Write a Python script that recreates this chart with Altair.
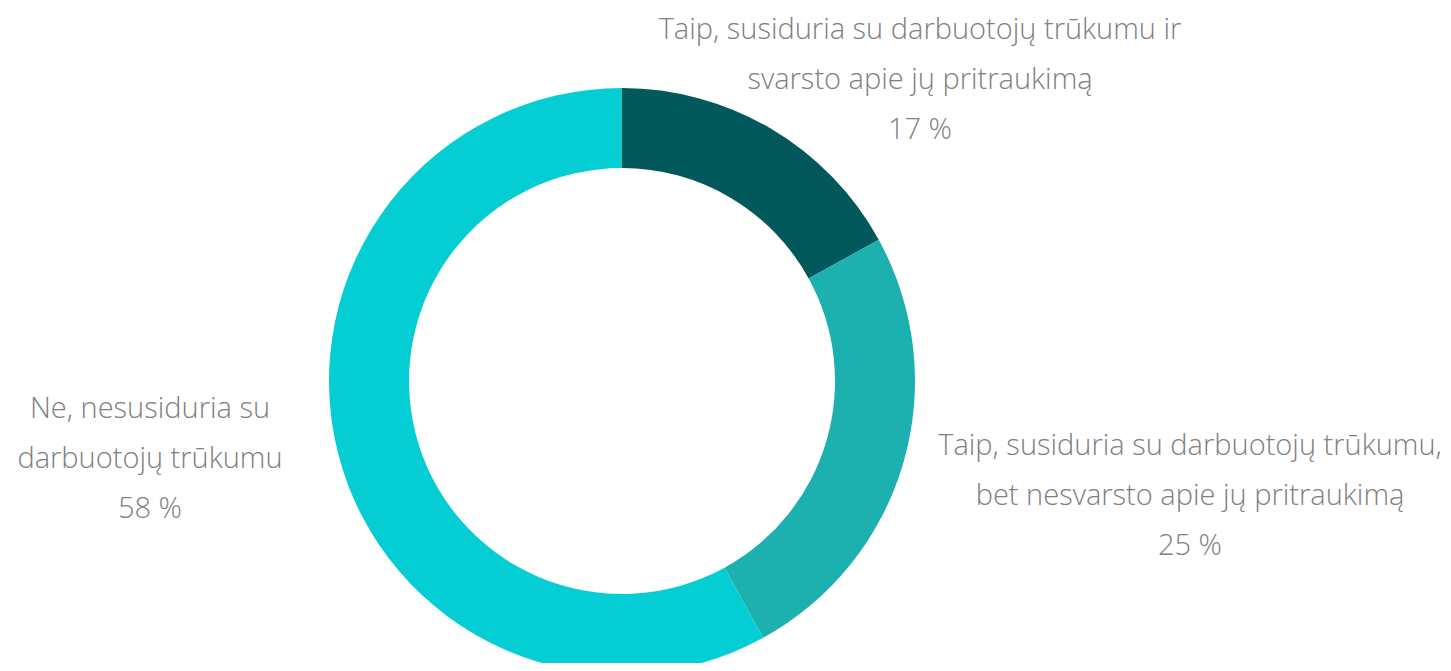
import altair as alt
import pandas as pd

categories = [
    "Taip, susiduria su darbuotojų trūkumu ir svarsto apie jų pritraukimą",
    "Taip, susiduria su darbuotojų trūkumu, bet nesvarsto apie jų pritraukimą",
    "Ne, nesusiduria su darbuotojų trūkumu",
]
values = [17, 25, 58]
colors = ["#03585C", "#1CB0AE", "#04CED3"]
label_lines = [
    ["Taip, susiduria su darbuotojų trūkumu ir", "svarsto apie jų pritraukimą", "17 %"],
    ["Taip, susiduria su darbuotojų trūkumu,", "bet nesvarsto apie jų pritraukimą", "25 %"],
    ["Ne, nesusiduria su", "darbuotojų trūkumu", "58 %"],
]

df = pd.DataFrame({"category": categories, "value": values, "order": [0, 1, 2]})

W, H = 1435, 655
cx, cy = 614, 373

arc = alt.Chart(df).mark_arc(outerRadius=293, innerRadius=213, stroke=None).encode(
    theta=alt.Theta("value:Q", stack=True),
    order=alt.Order("order:Q"),
    color=alt.Color("category:N", scale=alt.Scale(domain=categories, range=colors), legend=None),
    x=alt.value(cx),
    y=alt.value(cy),
)

label_pos = [(912, 22), (1182, 438), (142, 401)]
layers = [arc]
for (lx, ly), lines in zip(label_pos, label_lines):
    ldf = pd.DataFrame({"t": [lines]})
    layers.append(
        alt.Chart(ldf).mark_text(
            font="Open Sans", fontWeight=300, fontSize=29, color="#808080",
            align="center", baseline="middle", lineHeight=50,
        ).encode(text="t", x=alt.value(lx), y=alt.value(ly))
    )

chart = alt.layer(*layers).properties(
    width=W, height=H,
    autosize=alt.AutoSizeParams(type="fit", contains="padding"),
    padding=0,
).configure_view(stroke=None)

chart.save("out.html", embed_options={"renderer": "svg", "actions": False})
